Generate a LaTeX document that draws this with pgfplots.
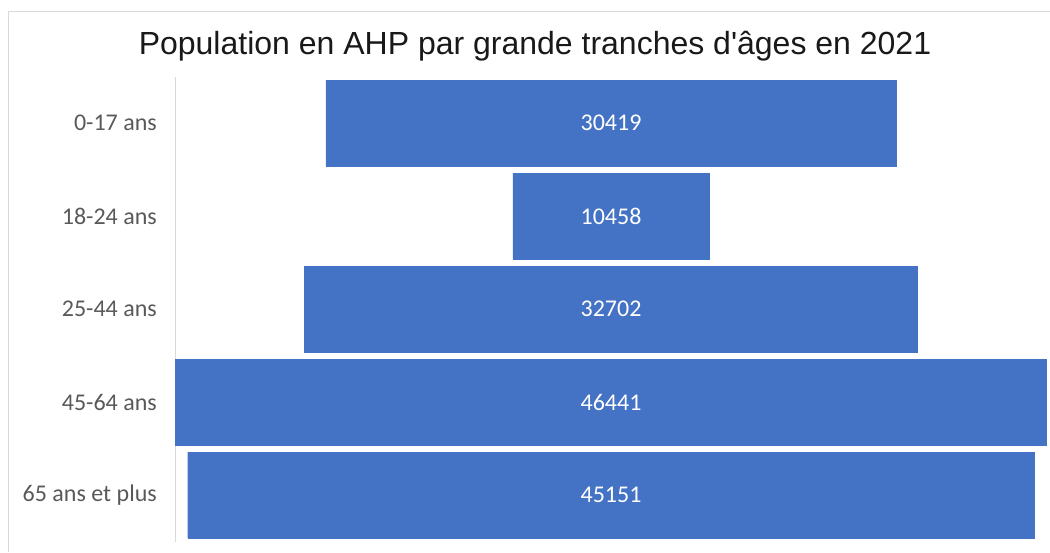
\documentclass[border=0pt]{standalone}
\usepackage{pgfplots}
\pgfplotsset{compat=1.18}
\usepackage{pgfplotstable}
\usepackage{fontspec}
\setmainfont{Carlito}
\newfontfamily\titlefont[Ligatures=TeXOff]{Liberation Sans}
\definecolor{barblue}{HTML}{4472C4}
\definecolor{lblgray}{HTML}{595959}
\definecolor{framegray}{HTML}{D9D9D9}
\pgfplotstableread{
idx value
0 30419
1 10458
2 32702
3 46441
4 45151
}\funneldata
\begin{document}
\begin{tikzpicture}[x=1pt,y=1pt]
\useasboundingbox (0,0) rectangle (1050,552);
\draw[framegray, line width=1pt] (8,0) -- (8,540) -- (1050,540);
\node[anchor=base, font=\titlefont\fontsize{32}{37}\selectfont, text=black!90] at (535,497) {Population en AHP par grande tranches d'âges en 2021};
\begin{axis}[
  at={(175pt,10.5pt)}, anchor=south west,
  scale only axis, width=872pt, height=465pt,
  xmin=-23255, xmax=23255, ymin=-0.5, ymax=4.5,
  y dir=reverse,
  hide x axis,
  axis y line*=left,
  y axis line style={draw=framegray, line width=1pt},
  ytick={0,1,2,3,4},
  yticklabels={0-17 ans,18-24 ans,25-44 ans,45-64 ans,65 ans et plus},
  major tick length=0pt,
  ytick style={draw=none},
  yticklabel style={anchor=east, inner sep=0pt, xshift=-18pt, text=lblgray, font=\fontsize{24}{28}\selectfont},
  clip=false,
]
\addplot[xbar, bar width=86pt, bar shift=0pt, fill=barblue, draw=barblue, line width=0.3pt]
  table[x expr=\thisrow{value}/2, y=idx]{\funneldata};
\addplot[xbar, bar width=86pt, bar shift=0pt, fill=barblue, draw=barblue, line width=0.3pt]
  table[x expr=-\thisrow{value}/2, y=idx]{\funneldata};
\addplot[draw=none, mark=none, nodes near coords, point meta=explicit symbolic,
  nodes near coords style={anchor=center, text=white, font=\fontsize{24}{28}\selectfont}]
  table[x expr=0, y=idx, meta=value]{\funneldata};
\end{axis}
\end{tikzpicture}
\end{document}
